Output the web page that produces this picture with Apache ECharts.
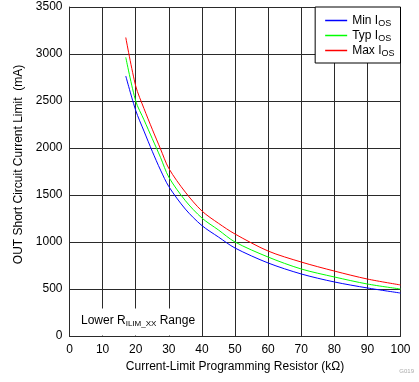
<!DOCTYPE html>
<html>
<head>
<meta charset="utf-8">
<script src="https://cdn.jsdelivr.net/npm/echarts@6/dist/echarts.min.js"></script>
<style>
html,body{margin:0;padding:0;background:#fff;}
#chart{width:419px;height:382px;}
</style>
</head>
<body>
<div id="chart"></div>
<script>
// Current-limit programming resistor (kΩ)
const resistance = [17, 20, 22.5, 25, 27.5, 30, 35, 40, 45, 50, 60, 70, 80, 90, 100];
// OUT short circuit current limit (mA)
const minIos = [2766, 2400, 2180, 1965, 1765, 1590, 1350, 1175, 1053, 936, 777, 660, 575, 511, 457];
const typIos = [2965, 2500, 2300, 2100, 1900, 1690, 1440, 1255, 1128, 1000, 840, 713, 628, 553, 500];
const maxIos = [3176, 2660, 2420, 2200, 1990, 1783, 1530, 1330, 1199, 1085, 904, 787, 691, 606, 543];
const seriesNames = ['Min I', 'Typ I', 'Max I'];
const seriesColors = ['#0000ff', '#00ff00', '#ff0000'];
const xTicks = [0, 10, 20, 30, 40, 50, 60, 70, 80, 90, 100];
const yTicks = [0, 500, 1000, 1500, 2000, 2500, 3000, 3500];

const FONT = 'Liberation Sans, Arial, sans-serif';
const gridColor = '#2a2a2a';

function pairs(xs, ys) { return xs.map((x, i) => [x, ys[i]]); }
const allY = [minIos, typIos, maxIos];

const chart = echarts.init(document.getElementById('chart'), null, {renderer: 'canvas'});
chart.setOption({
  animation: false,
  backgroundColor: '#fff',
  textStyle: {fontFamily: FONT},
  grid: {left: 69.5, right: 18.5, top: 7, bottom: 46, containLabel: false},
  xAxis: {
    type: 'value', min: xTicks[0], max: xTicks[xTicks.length - 1], interval: 10,
    name: 'Current-Limit Programming Resistor (kΩ)',
    nameLocation: 'middle', nameGap: 22,
    nameTextStyle: {fontFamily: FONT, fontSize: 12, color: '#000'},
    axisLine: {show: true, lineStyle: {color: gridColor, width: 1}},
    axisTick: {show: false},
    axisLabel: {fontFamily: FONT, fontSize: 12, color: '#000', margin: 8, formatter: v => String(v)},
    splitLine: {show: true, lineStyle: {color: gridColor, width: 1}}
  },
  yAxis: {
    type: 'value', min: yTicks[0], max: yTicks[yTicks.length - 1], interval: 500,
    name: 'OUT Short Circuit Current Limit  (mA)',
    nameLocation: 'middle', nameGap: 44,
    nameTextStyle: {fontFamily: FONT, fontSize: 12, color: '#000', padding: [0, 0, 0, 14]},
    axisLine: {show: true, lineStyle: {color: gridColor, width: 1}},
    axisTick: {show: false},
    axisLabel: {fontFamily: FONT, fontSize: 12, color: '#000', margin: 7, formatter: v => String(v)},
    splitLine: {show: true, lineStyle: {color: gridColor, width: 1}}
  },
  legend: {
    orient: 'vertical', right: 18.5, top: 7,
    backgroundColor: '#fff', borderColor: '#000', borderWidth: 1, borderRadius: 0,
    padding: [6, 6, 5, 10], itemGap: 0, itemWidth: 22, itemHeight: 1.5, itemTextGap: 10,
    icon: 'rect',
    data: seriesNames.map((n, i) => ({name: n, itemStyle: {color: seriesColors[i]}})),
    formatter: n => '{m|' + n + '}{s|OS}',
    textStyle: {
      fontFamily: FONT, fontSize: 12, color: '#000',
      rich: {
        m: {fontFamily: FONT, fontSize: 12, color: '#000', lineHeight: 12, verticalAlign: 'top'},
        s: {fontFamily: FONT, fontSize: 9, color: '#000', lineHeight: 9, padding: [6, 0, 0, 0]}
      }
    }
  },
  graphic: [
    {type: 'rect', z: 50, shape: {x: 70.5, y: 308.5, width: 125, height: 27}, style: {fill: '#fff'}},
    {type: 'text', z: 51, x: 81, y: 315, style: {
      text: '{m|Lower R}{s|ILIM_XX}{m| Range}',
      fontFamily: FONT, fontSize: 12, fill: '#000', verticalAlign: 'top',
      rich: {
        m: {fontFamily: FONT, fontSize: 12, fill: '#000', lineHeight: 12, verticalAlign: 'top'},
        s: {fontFamily: FONT, fontSize: 8, fill: '#000', lineHeight: 8, padding: [6, 0, 0, 0]}
      }
    }},
    {type: 'text', right: 5, bottom: 8, style: {text: 'G019', fontFamily: FONT, fontSize: 6, fill: '#aaa'}}
  ],
  series: seriesNames.map((n, i) => ({
    name: n, type: 'line', data: pairs(resistance, allY[i]),
    showSymbol: false, symbol: 'none', smooth: 0.3,
    lineStyle: {color: seriesColors[i], width: 1},
    itemStyle: {color: seriesColors[i]},
    z: 10
  }))
});
</script>
</body>
</html>
